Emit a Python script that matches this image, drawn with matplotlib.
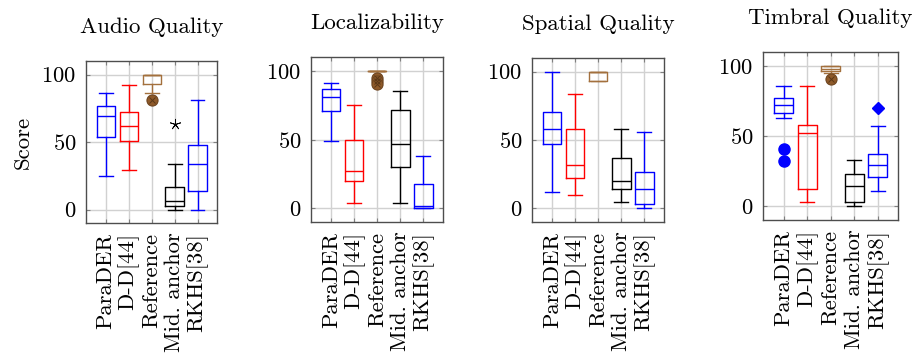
import matplotlib
matplotlib.use("Agg")
from matplotlib import pyplot as plt

plt.rcParams['font.family'] = 'cmr10'
plt.rcParams['axes.formatter.use_mathtext'] = True
plt.rcParams['font.size'] = 16

titles = ["Audio Quality", "Localizability", "Spatial Quality", "Timbral Quality"]
methods = ["ParaDER", "D-D[44]", "Reference", "Mid. anchor", "RKHS[38]"]

# (lower whisker, q1, median, q3, upper whisker) per method
audio_stats = [(25, 54, 69, 77, 86), (29, 51, 62, 72.5, 92), (86, 93, 100, 100, 100),
               (0, 2.5, 6, 17, 34), (0, 13.5, 34, 48, 81)]
loc_stats = [(49, 70.5, 81, 87, 91), (4, 20, 27, 49.5, 75), (100, 100, 100, 100, 100),
             (4, 30, 46.5, 71.5, 85), (0, 0, 2, 18, 38)]
spatial_stats = [(12, 47, 58, 70.5, 100), (10, 22, 32, 58, 84), (93.5, 93.5, 100, 100, 100),
                 (5, 14, 20, 37, 58), (0, 3, 14.5, 26.5, 56)]
timbral_stats = [(63, 66.5, 72.5, 77, 86), (3, 12, 52, 58, 86), (95, 96.5, 98, 100, 100),
                 (0, 3, 14.5, 23, 33), (11, 21, 29, 37, 57)]
all_stats = [audio_stats, loc_stats, spatial_stats, timbral_stats]

audio_fliers = [[], [], [81], [63.5], []]
loc_fliers = [[], [], [94.5, 92.5, 90.5], [], []]
spatial_fliers = [[], [], [], [], []]
timbral_fliers = [[41, 32], [], [90.5], [], [70]]
all_fliers = [audio_fliers, loc_fliers, spatial_fliers, timbral_fliers]

colors = ["blue", "red", "#a3703d", "black", "blue"]
flier_kind = ["dot", None, "otimes", "asterisk", "diamond"]

# axes boxes in pixels: left, right, top, bottom
axes_px = [(86, 217, 61, 223), (311, 443, 57, 222), (532, 664, 58, 222), (763, 898, 52, 220)]
W, H = 917, 357

fig = plt.figure(figsize=(W / 100, H / 100), dpi=100)

for p in range(4):
    l, r, t, b = axes_px[p]
    ax = fig.add_axes([l / W, 1 - b / H, (r - l) / W, (b - t) / H])
    for i in range(5):
        lo, q1, med, q3, hi = all_stats[p][i]
        st = dict(whislo=lo, q1=q1, med=med, q3=q3, whishi=hi, fliers=[])
        c = colors[i]
        lp = dict(color=c, linewidth=1.0)
        ax.bxp([st], positions=[i + 1], widths=0.8, capwidths=0.6, showfliers=False,
               boxprops=lp, whiskerprops=lp, capprops=lp, medianprops=lp)
        fl = all_fliers[p][i]
        if not fl:
            continue
        xs = [i + 1] * len(fl)
        kind = flier_kind[i]
        if kind == "otimes":
            ax.plot(xs, fl, 'o', ms=8, mfc='#8e5a2a', mec='#6e4520', mew=0.8, zorder=4)
            ax.plot(xs, fl, 'x', ms=5, mec='#5a3818', mew=0.7, zorder=5)
        elif kind == "asterisk":
            ax.plot(xs, fl, marker=(5, 2, 0), ls='none', ms=8, mec='black', mew=0.6, zorder=4)
        elif kind == "dot":
            ax.plot(xs, fl, 'o', ms=8, mfc='blue', mec='blue', zorder=4)
        elif kind == "diamond":
            ax.plot(xs, fl, 'D', ms=6, mfc='blue', mec='blue', zorder=4)

    ax.set_xlim(0.13, 5.85)
    ax.set_ylim(-10, 110)
    ax.set_xticks(range(1, 6))
    ax.set_xticklabels(methods, rotation=90, va='top', ha='center')
    ax.set_yticks([0, 50, 100])
    ax.grid(True, color='0.82', linewidth=1.0, zorder=0)
    ax.set_axisbelow(True)
    ax.tick_params(direction='in', length=3, color='0.5', top=True, right=True, pad=7,
                   labelsize=16.3)
    for s in ax.spines.values():
        s.set_color('0.3')
        s.set_linewidth(1.0)
    ax.set_title(titles[p], fontsize=16.5, pad=20)
    if p == 0:
        ax.set_ylabel("Score", fontsize=16.5, labelpad=6)

fig.savefig("out.png", dpi=100)
